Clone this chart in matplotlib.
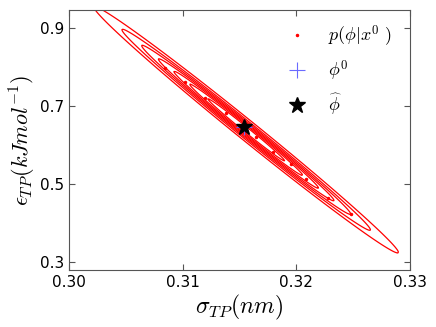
import numpy as np
import matplotlib
matplotlib.use("Agg")
import matplotlib.pyplot as plt

# posterior shape (mean, spreads, correlation)
post_mean = [0.3156, 0.640]
post_std = [0.00657, 0.155]
post_rho = -0.9948
level_frac = [0.125, 0.25, 0.375, 0.5, 0.625, 0.75, 0.875]

# a few posterior samples that show through the contours
sample_sigma = [0.3085, 0.3102, 0.3120, 0.3138, 0.3165, 0.3180, 0.3195,
                0.3209, 0.3228, 0.3248]
sample_eps = [0.798, 0.762, 0.722, 0.684, 0.622, 0.583, 0.551,
              0.515, 0.466, 0.423]

phi_true = [0.3154, 0.646]
phi_hat = [0.3154, 0.646]

xticks = [0.30, 0.31, 0.32, 0.33]
yticks = [0.3, 0.5, 0.7, 0.9]

plt.rcParams['mathtext.fontset'] = 'cm'
plt.rcParams['xtick.direction'] = 'in'
plt.rcParams['ytick.direction'] = 'in'
plt.rcParams['xtick.top'] = True
plt.rcParams['ytick.right'] = True

fig = plt.figure(figsize=(4.36, 3.27), dpi=100)
ax = fig.add_axes([0.158, 0.174, 0.782, 0.795])

# gaussian density on a grid
xs = np.linspace(0.298, 0.332, 400)
ys = np.linspace(0.2, 1.1, 400)
X, Y = np.meshgrid(xs, ys)
zx = (X - post_mean[0]) / post_std[0]
zy = (Y - post_mean[1]) / post_std[1]
q = (zx**2 - 2 * post_rho * zx * zy + zy**2) / (1 - post_rho**2)
Z = np.exp(-0.5 * q)
ax.contour(X, Y, Z, levels=level_frac, colors='red', linewidths=0.9)

ax.plot(sample_sigma, sample_eps, '.', color='red', ms=3, label=r'$p(\phi|x^0\ )$')
ax.plot(phi_true[0], phi_true[1], '+', color='#6a6aff', ms=12, mew=0.8,
        label=r'$\phi^0$')
ax.plot(phi_hat[0], phi_hat[1], '*', color='black', ms=12,
        label=r'$\widehat{\phi}$')

ax.set_xlim(0.30, 0.33)
ax.set_ylim(0.28, 0.947)
ax.set_xticks(xticks)
ax.set_yticks(yticks)
ax.set_xticklabels(['%.2f' % t for t in xticks])
ax.set_yticklabels(['%.1f' % t for t in yticks])
ax.tick_params(labelsize=11, length=4, color='#555555')
for s in ax.spines.values():
    s.set_color('#555555')

ax.set_xlabel(r'$\sigma_{TP}(nm)$', fontsize=17, labelpad=2)
ax.set_ylabel(r'$\epsilon_{TP}(kJmol^{-1})$', fontsize=16, labelpad=1)

ax.legend(loc='upper left', frameon=False, numpoints=1, fontsize=13,
          handletextpad=1.0, handlelength=1.5, labelspacing=0.5,
          borderaxespad=0, bbox_to_anchor=(0.607, 0.975))

fig.savefig('out.png', dpi=100)
